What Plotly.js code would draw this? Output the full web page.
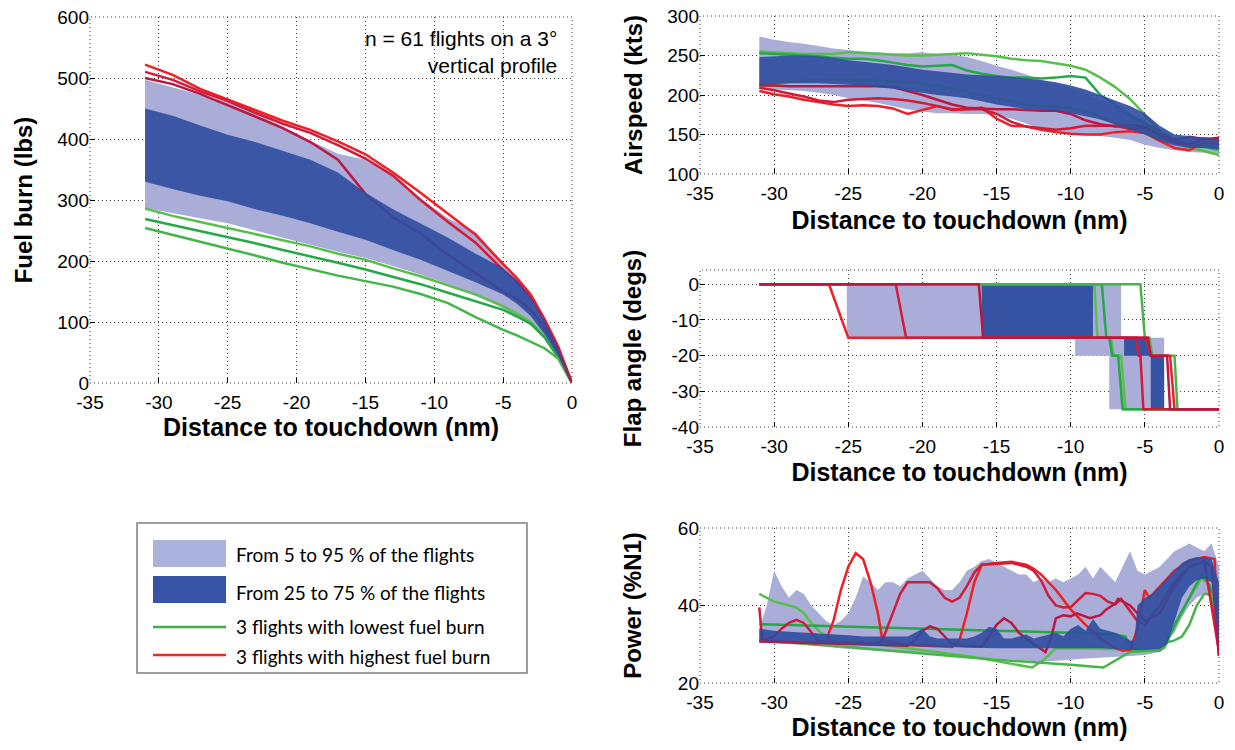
<!DOCTYPE html>
<html><head><meta charset="utf-8">
<script src="https://cdn.plot.ly/plotly-3.0.1.min.js"></script>
<style>html,body{margin:0;padding:0;background:#fff}#chart{width:1235px;height:750px}</style>
</head><body><div id="chart"></div>
<script>
// ---------- tick labels ----------
const distTickVals = [-35, -30, -25, -20, -15, -10, -5, 0];
const distTickText = ['-35', '-30', '-25', '-20', '-15', '-10', '-5', '0'];
const fuelTickVals = [0, 100, 200, 300, 400, 500, 600];
const speedTickVals = [100, 150, 200, 250, 300];
const flapTickVals = [-40, -30, -20, -10, 0];
const flapTickText = ['-40', '-30', '-20', '-10', '0'];
const powerTickVals = [20, 40, 60];

// ---------- Panel 1: fuel burn (lbs) ----------
const fuelX = [-31, -29, -27, -25, -23, -21, -19, -17, -15, -13, -11, -9, -7, -5, -4, -3, -2, -1, 0];
const fuelP95 = [497, 485, 472, 460, 443, 420, 397, 376, 366, 339, 303, 270, 248, 195, 172, 145, 107, 57, 0];
const fuelP5 = [287, 278, 270, 262, 250, 238, 226, 215, 205, 192, 178, 162, 145, 122, 110, 95, 74, 42, 0];
const fuelP75 = [450, 438, 422, 407, 395, 381, 366, 345, 312, 285, 262, 238, 212, 188, 168, 140, 103, 57, 0];
const fuelP25 = [330, 318, 307, 298, 285, 274, 262, 248, 235, 218, 202, 184, 165, 145, 130, 110, 80, 45, 0];
const fuelLow1 = [286, 274, 264, 254, 244, 234, 224, 212, 202, 188, 175, 160, 145, 126, 114, 100, 76, 42, 0];
const fuelLow2 = [269, 259, 250, 240, 229, 218, 208, 197, 186, 174, 162, 148, 134, 120, 109, 97, 75, 42, 0];
const fuelLow3 = [254, 243, 232, 221, 209, 197, 186, 176, 167, 158, 146, 131, 108, 87, 78, 68, 57, 40, 0];
const fuelHigh1 = [522, 505, 482, 465, 448, 430, 415, 396, 375, 345, 312, 278, 243, 195, 172, 145, 105, 60, 0];
const fuelHigh2 = [510, 497, 478, 462, 443, 425, 410, 390, 368, 340, 300, 264, 230, 185, 166, 140, 102, 57, 0];
const fuelHigh3 = [500, 490, 474, 455, 437, 418, 395, 366, 310, 272, 245, 210, 180, 150, 138, 120, 92, 50, 0];

// ---------- Panel 2: airspeed (kts) ----------
const speedX = [-31, -30, -29, -28, -27, -26, -25, -24, -23, -22, -21, -20, -19, -18, -17, -16, -15, -14, -13, -12, -11, -10, -9, -8, -7, -6, -5, -4, -3, -2, -1, 0];
const speedP95 = [274, 270, 267, 265, 262, 259, 257, 255, 254, 253, 253, 254, 252, 251, 248, 243, 237, 232, 226, 219, 214, 209, 202, 194, 186, 178, 167, 153, 146, 146, 147, 144];
const speedP5 = [208, 207, 206, 205, 203, 200, 196, 193, 190, 186, 182, 179, 177, 177, 176, 176, 175, 170, 164, 157, 152, 150, 149, 148, 146, 143, 137, 133, 130, 128, 127, 123];
const speedP75 = [248, 249, 250, 250, 249, 247, 244, 242, 240, 238, 235, 232, 230, 228, 226, 225, 224, 223, 221, 219, 216, 212, 207, 200, 194, 186, 177, 161, 150, 148, 146, 144];
const speedP25 = [213, 214, 215, 215, 215, 214, 213, 212, 210, 208, 205, 203, 200, 198, 196, 192, 188, 185, 182, 181, 180, 177, 173, 169, 163, 156, 150, 142, 136, 133, 133, 131];
const speedLow1 = [255, 254, 253, 252, 252, 252, 254, 253, 252, 251, 250, 250, 251, 252, 253, 251, 249, 246, 244, 243, 240, 237, 232, 222, 210, 195, 175, 154, 140, 133, 129, 124];
const speedLow2 = [253, 252, 251, 250, 249, 247, 246, 246, 244, 241, 238, 236, 237, 238, 231, 227, 224, 222, 222, 221, 222, 224, 222, 200, 188, 173, 164, 155, 143, 138, 136, 132];
const speedLow3 = [213, 214, 216, 218, 219, 220, 220, 219, 218, 217, 216, 215, 212, 208, 204, 200, 196, 192, 188, 186, 185, 184, 180, 172, 165, 158, 152, 146, 140, 135, 134, 130];
const speedHigh1 = [205, 201, 198, 194, 191, 188, 186, 187, 186, 183, 176, 181, 186, 181, 182, 184, 170, 161, 160, 156, 153, 151, 150, 150, 153, 154, 152, 142, 133, 130, 140, 138];
const speedHigh2 = [209, 206, 202, 198, 193, 191, 194, 195, 196, 195, 193, 190, 186, 182, 182, 182, 176, 166, 160, 158, 156, 158, 161, 161, 161, 157, 158, 149, 140, 137, 145, 143];
const speedHigh3 = [212, 212, 211, 211, 211, 211, 211, 211, 211, 210, 205, 200, 194, 188, 184, 183, 182, 182, 181, 180, 180, 176, 168, 163, 160, 162, 160, 150, 143, 147, 144, 146];

// ---------- Panel 3: flap angle (degs) ----------
const flapP95X = [-25.1, -9.7, -9.7, -7.4, -7.4, -6.6, -6.6, -3.7];
const flapP95 = [0, 0, 0, 0, 0, 0, -15, -15];
const flapP5 = [-15, -15, -20, -20, -35, -35, -35, -35];
const flapP75X = [-16.0, -8.5, -8.5, -6.4, -6.4, -4.6, -4.6, -3.7];
const flapP75 = [0, 0, -15, -15, -15, -15, -20, -20];
const flapP25 = [-15, -15, -15, -15, -20, -20, -35, -35];
const flapSteps = [0, 0, -15, -15, -20, -20, -35, -35];
const flapLow1X = [-31, -8.4, -8.2, -7.3, -7.1, -6.6, -6.3, 0];
const flapLow2X = [-31, -7.9, -7.6, -7.4, -7.2, -6.8, -6.5, 0];
const flapLow3X = [-31, -5.3, -5.0, -4.7, -4.5, -3.0, -2.8, 0];
const flapHigh1X = [-31, -26.3, -25.0, -4.9, -4.6, -3.3, -3.0, 0];
const flapHigh2X = [-31, -21.8, -21.1, -5.6, -5.4, -5.3, -5.1, 0];
const flapHigh3X = [-31, -16.2, -15.9, -4.8, -4.6, -3.5, -3.3, 0];

// ---------- Panel 4: power (%N1) ----------
const powerP95X = [-31, -30.5, -30, -29.5, -29, -28.5, -28, -27.5, -27, -26.5, -26, -25.5, -25, -24.5, -24, -23.5, -23, -22.5, -22, -21.5, -21, -20.5, -20, -19.5, -19, -18.5, -18, -17.5, -17, -16.5, -16, -15.5, -15, -14.5, -14, -13.5, -13, -12.5, -12, -11.5, -11, -10.5, -10, -9.5, -9, -8.5, -8, -7.5, -7, -6.5, -6, -5.5, -5, -4.5, -4, -3.5, -3, -2.5, -2, -1.5, -1, -0.5, 0];
const powerP95 = [34, 40, 49, 45, 42, 44, 43, 40, 38, 36, 35, 36, 38, 42, 47.5, 46, 44, 46, 46, 45, 47, 48, 49, 47, 45, 44, 44, 46, 49, 50, 51.5, 52, 51, 50, 49, 48, 48, 46, 47, 46, 47, 46, 47, 48, 50, 47, 50, 48, 46, 50, 54, 49, 48, 49, 50, 52, 54, 55, 56, 55, 54, 56, 50];
const powerP5X = [-31, -30, -29, -28, -27, -26, -25, -24, -23, -22, -21, -20, -19, -18, -17, -16, -15, -14, -13, -12, -11, -10, -9, -8, -7, -6, -5, -4, -3.5, -3, -2.5, -2, -1.5, -1, -0.5, 0];
const powerP5 = [30.5, 30.3, 30, 29.8, 29.5, 29.2, 28.8, 28.5, 28.3, 28, 27.8, 27.5, 27.2, 27, 26.8, 26.5, 26.2, 26, 25.8, 25.5, 25.8, 26, 26.3, 26.5, 26.8, 27, 27.2, 28, 31, 33, 37, 40, 42, 43, 42, 29];
const powerP75X = [-31, -30, -29, -28, -27, -26, -25, -24, -23, -22, -21, -20.5, -20, -19.5, -19, -18, -17, -16.5, -16, -15.5, -15, -14.5, -14, -13.5, -13, -12.5, -12, -11.5, -11, -10.5, -10, -9.5, -9, -8.5, -8, -7.5, -7, -6.5, -6, -5.7, -5.5, -5, -4.5, -4, -3.5, -3, -2.5, -2, -1.5, -1, -0.5, 0];
const powerP75 = [34, 33.5, 33.2, 33, 32.8, 32.5, 32.3, 32, 32, 32, 32, 33, 34, 32, 31.5, 31.5, 31.5, 32, 33, 34.5, 34, 31.5, 31.5, 32, 32.5, 31.5, 32, 32.5, 33, 32, 34, 35, 33.5, 36.5, 34, 33.5, 33, 32, 31, 31, 40, 42, 43, 45, 47, 49, 51, 52, 52.5, 52.5, 52, 46];
const powerP25X = [-31, -28, -25, -22, -20, -18, -15, -12, -10, -8, -6, -5, -4, -3.5, -3, -2.5, -2, -1.5, -1, -0.5, 0];
const powerP25 = [31, 30.5, 30, 29.6, 29.4, 29.2, 29, 29, 29, 29, 28.6, 28.5, 28.8, 30, 36, 42, 45, 46.5, 47, 46, 30];
const powerLow1X = [-31, -30.5, -30, -29.5, -29, -28.5, -28, -27.5, -27, -26.5, -26, -22, -17, -12.6, -11.8, -11, -9, -6, -4, -3.7, -3.2, -2.5, -2, -1.5, -1.2, -0.8, -0.3, 0];
const powerLow1 = [43, 42, 41, 40.5, 40, 39.5, 38, 35.5, 33.5, 32.2, 31.5, 29.4, 27, 24, 26, 29, 28.9, 28.7, 28.5, 29, 33, 38, 42, 45, 47, 46, 40, 27];
const powerLow2X = [-31, -25, -20, -15, -10, -7, -6.3, -5.8, -5, -4, -3.6, -3, -2, -1.2, -0.6, 0];
const powerLow2 = [35.2, 34.5, 34, 33.5, 33, 32.6, 32, 28.5, 28.3, 28.3, 30, 35, 42, 48, 45, 30];
const powerLow3X = [-31, -25, -20, -15, -10, -7.8, -6, -5, -4, -3.5, -3, -2.5, -2, -1.5, -1, -0.5, -0.2, 0];
const powerLow3 = [31, 29.3, 27.6, 26, 24.7, 24, 28, 28.2, 28.4, 30.5, 31, 32, 35, 40, 43, 43, 38, 27];
const powerHigh1X = [-31, -30, -29, -28, -27, -26.5, -26, -25.5, -25, -24.5, -24, -23.5, -23, -22.7, -21, -19, -18, -17.5, -17, -16.5, -16, -15, -14, -13, -12.5, -12, -11, -10, -9, -8, -7, -6.5, -6, -5.5, -5, -4.7, -4, -3, -2, -1, -0.3, 0];
const powerHigh1 = [31, 30.8, 30.6, 30.4, 30.2, 31, 36, 44, 50, 53.5, 52, 46, 38, 31, 29.8, 29.5, 29.3, 31, 38, 46, 50.5, 51, 51.3, 50.5, 49.5, 48, 44, 39, 35, 31.5, 29, 28.3, 28.5, 34, 44, 42, 45, 49, 51.5, 52.5, 52, 30];
const powerHigh2X = [-31, -30.8, -30, -29.5, -29, -28.5, -28, -27.5, -27, -25, -23, -22.7, -22.3, -22, -21.5, -21, -20, -19.5, -19, -18.5, -18, -17.5, -17, -16.5, -16, -15, -14, -13, -12.5, -12, -11.5, -11, -10.5, -10, -9.5, -9, -8.5, -8, -7.5, -7, -6.6, -6, -5.5, -5, -4, -3, -2, -1, 0];
const powerHigh2 = [39.5, 31, 32, 34, 35.5, 36.3, 35.5, 33, 30.8, 30.4, 30.2, 31, 35, 38.5, 43, 46, 46, 46, 44.5, 42, 41, 42, 45, 48.5, 50.5, 50.8, 51, 50, 49, 46.5, 42.5, 40, 39.5, 39.6, 41.5, 43.2, 43, 42.5, 41, 40.3, 41.7, 38.5, 36, 35, 40, 46, 50, 51.5, 28];
const powerHigh3X = [-31, -29, -27, -25, -23, -21, -20.5, -20, -19.5, -19, -18.5, -18, -17, -16, -15.5, -15, -14.5, -14, -13.5, -13, -12.5, -12, -11.7, -11.3, -11, -10.5, -10, -9.6, -9, -8.7, -8, -7.6, -7, -6.8, -6, -5, -4, -3, -2, -1, -0.5, 0];
const powerHigh3 = [30.7, 30.5, 30.2, 30, 29.8, 29.6, 31, 33.5, 34.6, 34, 32, 30, 29.5, 29.4, 32, 35, 36.7, 35.5, 33, 31.5, 30, 28.8, 28, 32, 36.7, 37.5, 37.2, 38, 37, 36.7, 37.5, 39, 40.5, 41.7, 40, 36, 38, 45, 50, 51.5, 50, 27];

// ---------- legend labels ----------
const legendLabels = ['From 5 to 95 % of the flights', 'From 25 to 75 % of the flights', '3 flights with lowest fuel burn', '3 flights with highest fuel burn'];

// ---------- styles ----------
const LIGHT = '#a9add8';
const DARK = '#2f4d9f';
const GREENS = ['#59bf4c', '#25a846', '#44b649'];
const REDS = ['#ee2026', '#d51a38', '#bb1740'];
const GRID = '#3a3a3a';
const GRIDDASH = '1px,3px';
const W = 1235, H = 750;
const px = v => v / W;
const py = v => 1 - v / H;

function lineTrace(x, y, color, xa, ya) {
  return {type: 'scatter', mode: 'lines', x: x, y: y, xaxis: xa, yaxis: ya,
    line: {color: color, width: 2.5}, hoverinfo: 'skip', showlegend: false};
}
function bandTrace(xU, yU, xL, yL, color, opacity, xa, ya) {
  return {type: 'scatter', mode: 'lines', xaxis: xa, yaxis: ya,
    x: xU.concat(xL.slice().reverse()), y: yU.concat(yL.slice().reverse()),
    fill: 'toself', fillcolor: color, opacity: opacity, line: {width: 0, color: color},
    hoverinfo: 'skip', showlegend: false};
}

const traces = [];
function panel(xa, ya, light, lows, highs, dark) {
  traces.push(bandTrace(light[0], light[1], light[2], light[3], LIGHT, 1, xa, ya));
  lows.forEach((s, i) => traces.push(lineTrace(s[0], s[1], GREENS[i], xa, ya)));
  highs.forEach((s, i) => traces.push(lineTrace(s[0], s[1], REDS[i], xa, ya)));
  traces.push(bandTrace(dark[0], dark[1], dark[2], dark[3], DARK, 0.9, xa, ya));
}

panel('x', 'y', [fuelX, fuelP95, fuelX, fuelP5],
  [[fuelX, fuelLow1], [fuelX, fuelLow2], [fuelX, fuelLow3]],
  [[fuelX, fuelHigh1], [fuelX, fuelHigh2], [fuelX, fuelHigh3]],
  [fuelX, fuelP75, fuelX, fuelP25]);
panel('x2', 'y2', [speedX, speedP95, speedX, speedP5],
  [[speedX, speedLow1], [speedX, speedLow2], [speedX, speedLow3]],
  [[speedX, speedHigh1], [speedX, speedHigh2], [speedX, speedHigh3]],
  [speedX, speedP75, speedX, speedP25]);
// flap panel: lines drawn above the bands
traces.push(bandTrace(flapP95X, flapP95, flapP95X, flapP5, LIGHT, 1, 'x3', 'y3'));
traces.push(bandTrace(flapP75X, flapP75, flapP75X, flapP25, DARK, 0.95, 'x3', 'y3'));
[flapLow1X, flapLow2X, flapLow3X].forEach((x, i) => traces.push(lineTrace(x, flapSteps, GREENS[i], 'x3', 'y3')));
[flapHigh1X, flapHigh2X, flapHigh3X].forEach((x, i) => traces.push(lineTrace(x, flapSteps, REDS[i], 'x3', 'y3')));
panel('x4', 'y4', [powerP95X, powerP95, powerP5X, powerP5],
  [[powerLow1X, powerLow1], [powerLow2X, powerLow2], [powerLow3X, powerLow3]],
  [[powerHigh1X, powerHigh1], [powerHigh2X, powerHigh2], [powerHigh3X, powerHigh3]],
  [powerP75X, powerP75, powerP25X, powerP25]);

const FONT = 'Liberation Sans, Arial, Helvetica, sans-serif';
function xAxis(domain, anchor, standoff) {
  return {domain: domain, anchor: anchor, range: [-35, 0], tickvals: distTickVals, ticktext: distTickText,
    showgrid: true, gridcolor: GRID, griddash: GRIDDASH, gridwidth: 1, zeroline: false, showline: false,
    ticks: 'inside', ticklen: 5, tickcolor: '#000', tickwidth: 1, ticklabelstandoff: 6,
    tickfont: {family: FONT, size: 19, color: '#000'},
    fixedrange: true, automargin: false,
    title: {text: 'Distance to touchdown (nm)', standoff: standoff, font: {family: FONT, size: 25, weight: 'bold', color: '#000'}}};
}
function yAxis(domain, anchor, range, vals, text, title, standoff) {
  const a = {domain: domain, anchor: anchor, range: range, tickvals: vals,
    showgrid: true, gridcolor: GRID, griddash: GRIDDASH, gridwidth: 1, zeroline: false, showline: false,
    ticks: 'inside', ticklen: 5, tickcolor: '#000', tickwidth: 1, tickfont: {family: FONT, size: 19, color: '#000'},
    fixedrange: true, automargin: false,
    title: {text: title, standoff: standoff, font: {family: FONT, size: 24, weight: 'bold', color: '#000'}}};
  if (text) a.ticktext = text;
  return a;
}
// dotted frame so the grid lines at the range ends are drawn too
function frame(xa, ya) {
  return {type: 'rect', xref: xa + ' domain', yref: ya + ' domain', x0: 0, x1: 1, y0: 0, y1: 1,
    line: {color: GRID, width: 1, dash: GRIDDASH}, fillcolor: 'rgba(0,0,0,0)', layer: 'below'};
}

const layout = {
  width: W, height: H, margin: {l: 0, r: 0, t: 0, b: 0}, showlegend: false,
  paper_bgcolor: '#fff', plot_bgcolor: '#fff', font: {family: FONT, color: '#000'},
  xaxis: xAxis([px(90), px(572)], 'y', 6),
  yaxis: yAxis([py(383), py(17)], 'x', [0, 600], fuelTickVals, null, 'Fuel burn (lbs)', 17),
  xaxis2: xAxis([px(700), px(1219)], 'y2', 8),
  yaxis2: yAxis([py(174), py(16)], 'x2', [100, 300], speedTickVals, null, 'Airspeed (kts)', 17),
  xaxis3: xAxis([px(700), px(1219)], 'y3', 7),
  yaxis3: yAxis([py(427), py(270)], 'x3', [-40, 4], flapTickVals, flapTickText, 'Flap angle (degs)', 23),
  xaxis4: xAxis([px(700), px(1219)], 'y4', 6),
  yaxis4: yAxis([py(683), py(528)], 'x4', [20, 60], powerTickVals, null, 'Power (%N1)', 29),
  shapes: [
    frame('x', 'y'), frame('x2', 'y2'), frame('x3', 'y3'), frame('x4', 'y4'),
    {type: 'rect', xref: 'paper', yref: 'paper', x0: px(137), x1: px(527), y0: py(673), y1: py(523), line: {color: '#7f7f7f', width: 1.5}, fillcolor: '#fff', layer: 'below'},
    {type: 'rect', xref: 'paper', yref: 'paper', x0: px(153), x1: px(226), y0: py(567), y1: py(540), line: {width: 0}, fillcolor: '#aab3dc'},
    {type: 'rect', xref: 'paper', yref: 'paper', x0: px(153), x1: px(226), y0: py(603), y1: py(576), line: {width: 0}, fillcolor: '#3753a5'},
    {type: 'line', xref: 'paper', yref: 'paper', x0: px(153), x1: px(226), y0: py(627), y1: py(627), line: {color: '#3cb043', width: 2.5}},
    {type: 'line', xref: 'paper', yref: 'paper', x0: px(153), x1: px(226), y0: py(655), y1: py(655), line: {color: '#ee2a24', width: 2.5}}
  ],
  annotations: [
    {xref: 'paper', yref: 'paper', x: px(559), y: py(52), xanchor: 'right', yanchor: 'middle', align: 'right', showarrow: false,
      text: 'n = 61 flights on a 3°<br>vertical profile', font: {family: FONT, size: 21, color: '#000'}},
  ].concat(legendLabels.map((t, i) => ({xref: 'paper', yref: 'paper', x: px(234), y: py([554, 592, 626, 656][i]),
      xanchor: 'left', yanchor: 'middle', showarrow: false, text: t, font: {family: 'Lato, Carlito, sans-serif', size: 19, color: '#000'}})))
};

Plotly.newPlot('chart', traces, layout, {staticPlot: true, displayModeBar: false});
</script></body></html>
